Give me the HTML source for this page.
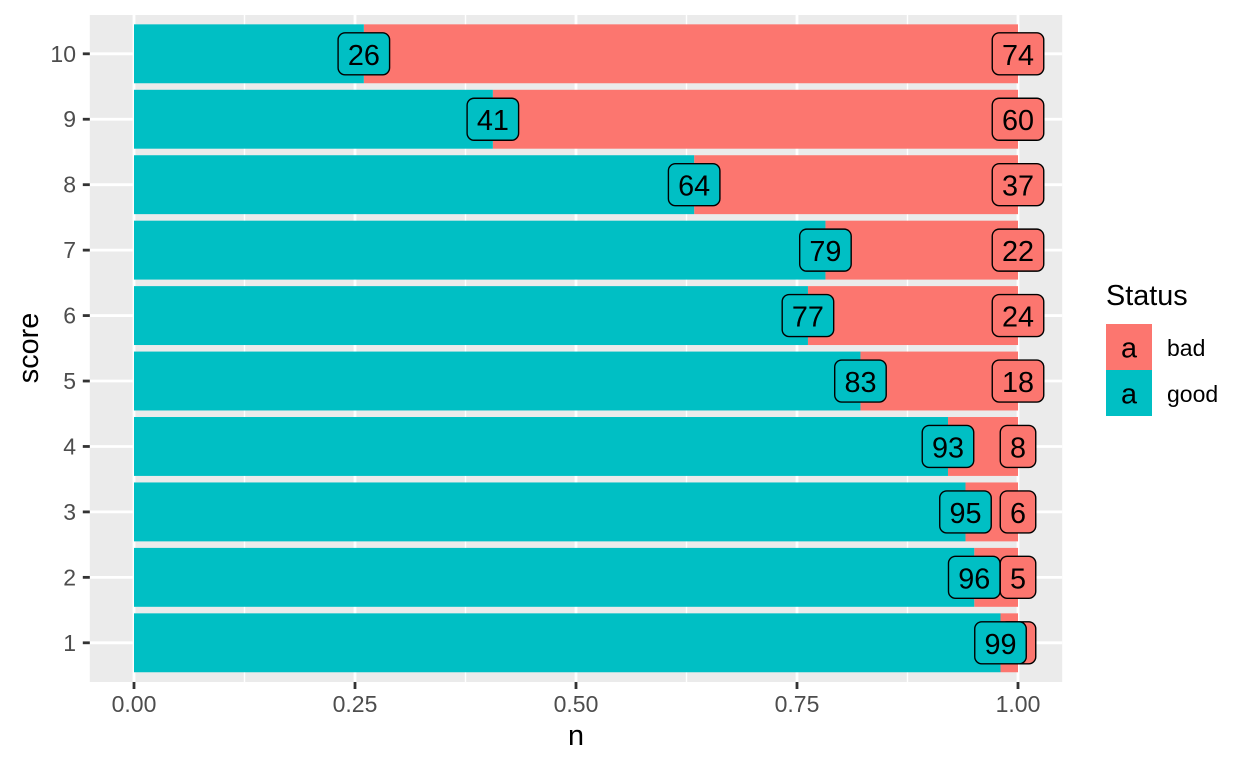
<!DOCTYPE html>
<html>
<head>
<meta charset="utf-8">
<title>Status by score</title>
<style>
html,body{margin:0;padding:0;background:#fff;width:1248px;height:768px;overflow:hidden}
svg{display:block;font-family:"Liberation Sans",sans-serif}
</style>
</head>
<body>
<svg id="chart" width="1248" height="768" viewBox="0 0 1248 768" xmlns="http://www.w3.org/2000/svg"></svg>
<script>
const scores = [1, 2, 3, 4, 5, 6, 7, 8, 9, 10];
const goodCounts = [99, 96, 95, 93, 83, 77, 79, 64, 41, 26];
const badCounts = [2, 5, 6, 8, 18, 24, 22, 37, 60, 74];
const xTickValues = [0, 0.25, 0.5, 0.75, 1];
const xTickLabels = ['0.00', '0.25', '0.50', '0.75', '1.00'];
const xMinorValues = [0.125, 0.375, 0.625, 0.875];
const legendLabels = ['bad', 'good'];

const NS = 'http://www.w3.org/2000/svg';
const svg = document.getElementById('chart');
const RED = '#FC766F';
const CYAN = '#00BFC4';
const X0 = 134, X1 = 1018;
const Y1 = 642.8, Y10 = 53.8;
const xScale = v => X0 + v * (X1 - X0);
const yScale = s => Y1 + (s - 1) * (Y10 - Y1) / 9;
const band = (Y1 - Y10) / 9 * 0.9;

function make(tag, attrs, parent, text) {
  const el = document.createElementNS(NS, tag);
  for (const k in attrs) el.setAttribute(k, attrs[k]);
  if (text !== undefined) el.textContent = text;
  (parent || svg).appendChild(el);
  return el;
}

const panel = make('rect', {x: 89.8, y: 15, width: 972.4, height: 667, fill: '#EBEBEB'});



xMinorValues.forEach(v => {
  const l = make('line', {x1: xScale(v), x2: xScale(v), y1: 15, y2: 682, stroke: '#fff', 'stroke-width': 1.4});
  
  
});
xTickValues.forEach(v => {
  const l = make('line', {x1: xScale(v), x2: xScale(v), y1: 15, y2: 682, stroke: '#fff', 'stroke-width': 2.8});
  
  
});
scores.forEach(s => {
  const l = make('line', {x1: 89.8, x2: 1062.2, y1: yScale(s), y2: yScale(s), stroke: '#fff', 'stroke-width': 2.8});
  
  
});

scores.forEach((s, i) => {
  const share = goodCounts[i] / (goodCounts[i] + badCounts[i]);
  const y = yScale(s) - band / 2;
  const bad = make('rect', {x: xScale(share), y: y, width: xScale(1) - xScale(share), height: band, fill: RED});
  
  
  const good = make('rect', {x: xScale(0), y: y, width: xScale(share) - xScale(0), height: band, fill: CYAN});
  
  
});

function drawLabel(cx, cy, value, fill, name) {
  const w = String(value).length > 1 ? 51.5 : 35.5;
  const g = make('g', {});
  
  
  make('rect', {x: cx - w / 2, y: cy - 21, width: w, height: 42, rx: 7, ry: 7, fill: fill, stroke: '#000', 'stroke-width': 1.4}, g);
  make('text', {x: cx, y: cy + 11, 'text-anchor': 'middle', 'font-size': 28.8, fill: '#000'}, g, value);
}
scores.forEach((s, i) => {
  drawLabel(xScale(1), yScale(s), badCounts[i], RED, 'label-bad-score-' + s);
});
scores.forEach((s, i) => {
  const share = goodCounts[i] / (goodCounts[i] + badCounts[i]);
  drawLabel(xScale(share), yScale(s), goodCounts[i], CYAN, 'label-good-score-' + s);
});

xTickValues.forEach((v, i) => {
  const t = make('line', {x1: xScale(v), x2: xScale(v), y1: 682, y2: 689, stroke: '#333', 'stroke-width': 2.8});
  
  
  const lab = make('text', {x: xScale(v), y: 712, 'text-anchor': 'middle', 'font-size': 23, fill: '#4D4D4D'}, svg, xTickLabels[i]);
  
  
});
scores.forEach(s => {
  const t = make('line', {x1: 82.8, x2: 89.8, y1: yScale(s), y2: yScale(s), stroke: '#333', 'stroke-width': 2.8});
  
  
  const lab = make('text', {x: 76, y: yScale(s) + 8, 'text-anchor': 'end', 'font-size': 23, fill: '#4D4D4D'}, svg, s);
  
  
});

const keyColors = [RED, CYAN];
legendLabels.forEach((name, i) => {
  const y = 324 + i * 46;
  const g = make('g', {});
  
  
  make('rect', {x: 1106, y: y, width: 46, height: 46, fill: keyColors[i]}, g);
  make('text', {x: 1129, y: y + 33.5, 'text-anchor': 'middle', 'font-size': 28.8, fill: '#000'}, g, 'a');
  make('text', {x: 1167, y: y + 32, 'font-size': 23, fill: '#000'}, g, name);
});
</script>
<svg style="position:absolute;left:0;top:0" width="1248" height="768" xmlns="http://www.w3.org/2000/svg">
  <text x="576" y="745" text-anchor="middle" font-size="28.8" fill="#000">n</text>
  <text transform="translate(38,348) rotate(-90)" text-anchor="middle" font-size="28.8" fill="#000">score</text>
  <text x="1106" y="305" font-size="28.8" fill="#000">Status</text>
</svg>
</body>
</html>
